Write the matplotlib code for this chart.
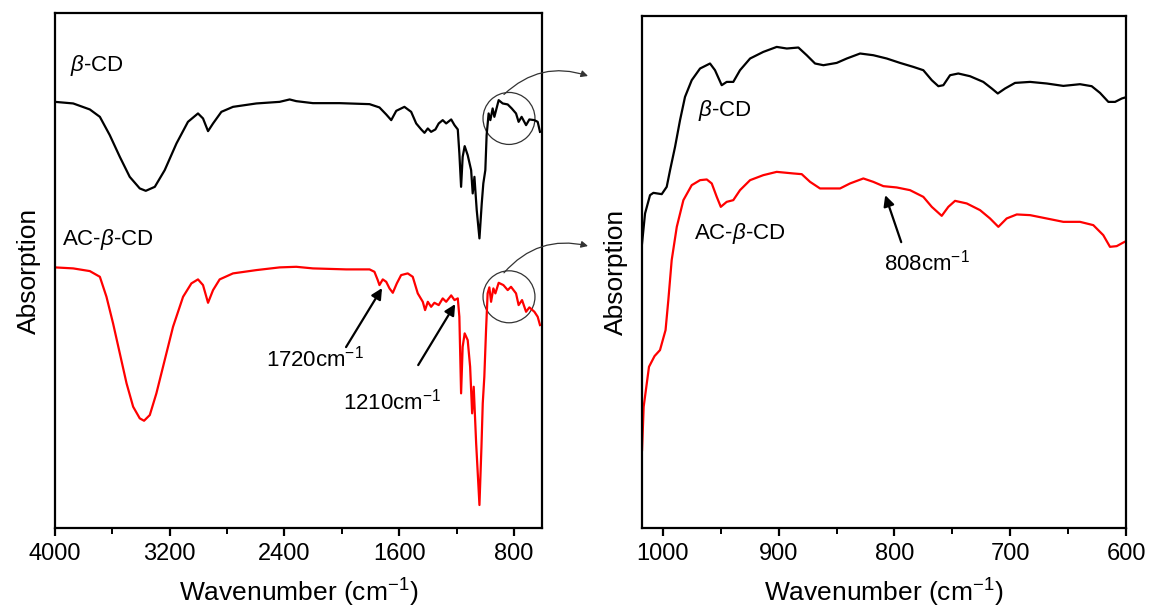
import matplotlib
matplotlib.use("Agg")
import matplotlib.pyplot as plt
from matplotlib.patches import Ellipse

plt.rcParams['font.family'] = ['Liberation Sans', 'DejaVu Sans']
plt.rcParams['mathtext.fontset'] = 'custom'
plt.rcParams['mathtext.rm'] = 'Liberation Sans'
plt.rcParams['mathtext.it'] = 'Liberation Sans:italic'

# Full FTIR spectra, 4000-600 cm-1 (arbitrary absorption units)
wn_full_cd = [4000, 3873, 3757, 3687, 3618, 3548, 3479, 3409, 3367, 3304, 3235, 3153,
              3073, 3003, 2968, 2933, 2898, 2840, 2759, 2596, 2434, 2364, 2318, 2202,
              2016, 1807, 1738, 1691, 1656, 1621, 1564, 1517, 1482, 1447, 1424, 1401,
              1378, 1348, 1325, 1297, 1273, 1238, 1215, 1192, 1181, 1169, 1158, 1144,
              1123, 1099, 1088, 1076, 1060, 1041, 1025, 1014, 1000, 991, 977, 965, 949,
              937, 907, 879, 844, 816, 786, 768, 747, 716, 693, 658, 635, 619]
ab_full_cd = [426.3, 424.7, 418.7, 411.3, 393, 371.3, 351.3, 339.7, 337.3, 341.3, 358, 384.7,
              406.3, 414.7, 409.7, 397, 404.7, 416.3, 421.3, 424.7, 426.3, 428.7, 427, 425,
              425, 424, 420.7, 413.7, 408, 417.3, 421.3, 416.3, 404.7, 398.7, 395.3, 399.7,
              396.3, 398.7, 404.7, 408, 404.7, 408.7, 403, 398.7, 374.7, 341.3, 371.3, 382,
              373, 358, 334.7, 351.3, 318, 289.7, 324.7, 344.7, 358, 393, 414.7, 408, 419.7,
              411.3, 428, 424.7, 423.7, 419.7, 414.7, 406.3, 411.3, 403, 408.7, 408, 406.3, 396.3]

wn_full_ac = [4000, 3873, 3757, 3687, 3641, 3595, 3548, 3501, 3455, 3409, 3379, 3339,
              3293, 3235, 3177, 3107, 3049, 3003, 2968, 2933, 2898, 2852, 2759, 2596,
              2434, 2318, 2202, 1970, 1807, 1773, 1750, 1738, 1715, 1691, 1668, 1645,
              1617, 1587, 1541, 1506, 1471, 1436, 1420, 1401, 1378, 1355, 1325, 1297,
              1273, 1238, 1215, 1192, 1181, 1169, 1158, 1144, 1123, 1106, 1092, 1081,
              1064, 1041, 1027, 1018, 1007, 995, 984, 972, 960, 944, 930, 907, 874, 844,
              821, 786, 768, 744, 716, 693, 658, 635, 619]
ab_full_ac = [260.7, 259.7, 257, 251.3, 231.3, 204.7, 174.7, 144.7, 121.3, 109.7, 107.3, 113,
              134.7, 168, 201.3, 231.3, 244.7, 248.7, 243, 225.3, 238, 248.7, 254.7, 258,
              260.7, 261.3, 259.7, 258.7, 258.7, 256.3, 248, 243, 248.7, 246.3, 239.7, 235.3,
              244.7, 253, 254.7, 251.3, 234.7, 226.3, 218, 226.3, 221.3, 225.3, 223, 229.7,
              226.3, 232.7, 228, 229.7, 211.3, 134.7, 181.3, 194.7, 188, 161.3, 114.7, 141.3,
              84.7, 23, 81.3, 124.7, 151.3, 198, 234.7, 240.7, 226.3, 239.7, 234.7, 245.3, 243, 238,
              241.3, 234.7, 223, 228, 216.3, 220.7, 216.3, 211.3, 203]

# Expanded 1018-600 cm-1 region
wn_zoom_cd = [1018, 1015.4, 1011.1, 1008.2, 1001, 996.7, 993.8, 989.5, 985.2, 980.9, 975.1,
              967.9, 959.3, 955, 949.2, 944.9, 939.2, 933.4, 924.7, 913.3, 901.7, 893, 883,
              875.8, 868.6, 861.4, 849.9, 841.2, 829.7, 818.3, 806.7, 795.2, 783.7, 775.1,
              767.8, 762.1, 757.8, 752, 744.9, 734.8, 723.3, 716, 710.8, 704.5, 695.9, 682.9,
              668.5, 654.2, 639.8, 629.7, 622.5, 615.3, 609.5, 603.7, 600]
ab_zoom_cd = [284.7, 314.7, 333, 335.3, 334, 341.3, 358, 381.3, 408, 431.3, 448,
              459.7, 464.7, 458, 443, 446.3, 446.3, 458, 469.7, 476.3, 481.3, 479.7, 480.7,
              473, 464.7, 463, 465.3, 469.7, 474.7, 473, 469.7, 465.3, 461.3, 458,
              448, 442, 443, 453, 454.7, 452, 446.3, 439.7, 434.7, 439.7, 445.3, 446.3,
              444.7, 442.3, 444, 442, 435.3, 426.3, 426.3, 429.7, 431]

wn_zoom_ac = [1018, 1016.6, 1012, 1007.2, 1002.5, 997.7, 995.3, 992.4, 988, 982.3, 975.1,
              967.9, 962.1, 957.8, 953.5, 950, 944.9, 939.2, 933.4, 924.7, 913.3, 901.7,
              887.3, 880.1, 872.9, 864.3, 847, 838.4, 826.9, 818.3, 809.6, 798.1, 786.6,
              775.1, 767.8, 759.2, 753.5, 747.7, 737.6, 726.1, 717.5, 710.3, 703.1, 694.4,
              682.9, 665.7, 654.2, 639.8, 628.3, 619.7, 613.9, 608.1, 602.9, 600]
ab_zoom_ac = [78, 121.3, 161.3, 172, 178, 198, 228, 268, 301.3, 328, 343,
              348, 348.7, 344.7, 331.3, 321.3, 326.3, 328, 338, 348, 353, 356.3,
              354.7, 354, 346.3, 339.7, 339.7, 344.7, 349.7, 346.3, 342, 340.7, 338,
              331.3, 321.3, 312.3, 321.3, 327.3, 324.7, 318, 309.7, 301.3, 309.7, 313.7,
              313, 309, 306.3, 306.3, 303, 293, 281.3, 282, 285.3, 287]

full_ticks = [4000, 3200, 2400, 1600, 800]
zoom_ticks = [1000, 900, 800, 700, 600]

fig = plt.figure(figsize=(11.5, 6.1), dpi=100)
ax1 = fig.add_axes([0.0478, 0.1344, 0.4235, 0.844])
ax2 = fig.add_axes([0.5583, 0.1344, 0.4209, 0.839])

ax1.plot(wn_full_cd, ab_full_cd, color='black', lw=1.6)
ax1.plot(wn_full_ac, ab_full_ac, color='#ff0000', lw=1.6)
ax1.set_xlim(4000, 605)
ax1.set_ylim(0, 515)
ax1.set_xticks(full_ticks)
ax1.set_xticks([3600, 2800, 2000, 1200], minor=True)

ax2.plot(wn_zoom_cd, ab_zoom_cd, color='black', lw=1.6)
ax2.plot(wn_zoom_ac, ab_zoom_ac, color='#ff0000', lw=1.6)
ax2.set_xlim(1018, 600)
ax2.set_ylim(0, 512)
ax2.set_xticks(zoom_ticks)
ax2.set_xticks([950, 850, 750, 650], minor=True)

for ax in (ax1, ax2):
    ax.set_yticks([])
    for s in ax.spines.values():
        s.set_linewidth(1.6)
    ax.tick_params(axis='x', which='major', direction='out', length=6, width=1.6,
                   labelsize=17, pad=5)
    ax.tick_params(axis='x', which='minor', direction='out', length=4, width=1.4)
    ax.set_xlabel('Wavenumber (cm$^{-1}$)', fontsize=19, labelpad=8)
    ax.set_ylabel('Absorption', fontsize=19, labelpad=10)

# curve labels
ax1.text(3896, 463, r'$\mathit{\beta}$-CD', fontsize=16, va='center')
ax1.text(3948, 289, r'AC-$\mathit{\beta}$-CD', fontsize=16, va='center')
ax2.text(969.6, 418, r'$\mathit{\beta}$-CD', fontsize=16, va='center')
ax2.text(973, 294.5, r'AC-$\mathit{\beta}$-CD', fontsize=16, va='center')

# peak markers
arrow = dict(arrowstyle='-|>', color='black', lw=1.6, mutation_scale=16, shrinkA=0, shrinkB=0)
ax1.annotate('', xy=(1720, 240), xytext=(-36, -59), textcoords='offset pixels', arrowprops=arrow)
ax1.text(2532, 170, '1720cm$^{-1}$', fontsize=16, va='center')
ax1.annotate('', xy=(1210, 224), xytext=(-37, -61), textcoords='offset pixels', arrowprops=arrow)
ax1.text(1995, 127, '1210cm$^{-1}$', fontsize=16, va='center')
ax2.annotate('', xy=(808, 333), xytext=(16, -47), textcoords='offset pixels', arrowprops=arrow)
ax2.text(809, 266, '808cm$^{-1}$', fontsize=16, va='center')

# circles around the expanded region with curved pointers to the right panel
for cy, end_y in [(409.7, 76), (231.3, 246)]:
    ax1.add_patch(Ellipse((835, cy), width=362, height=52, fill=False,
                          edgecolor='#333333', lw=0.9, clip_on=False))
    ax1.annotate('', xy=(588 / 1150, 1 - end_y / 610), xycoords='figure fraction',
                 xytext=(870, cy + 24), textcoords='data',
                 arrowprops=dict(arrowstyle='-|>', color='#333333', lw=0.9,
                                 mutation_scale=10, shrinkA=0, shrinkB=0,
                                 connectionstyle='arc3,rad=-0.3'))

fig.savefig('out.png', dpi=100)
